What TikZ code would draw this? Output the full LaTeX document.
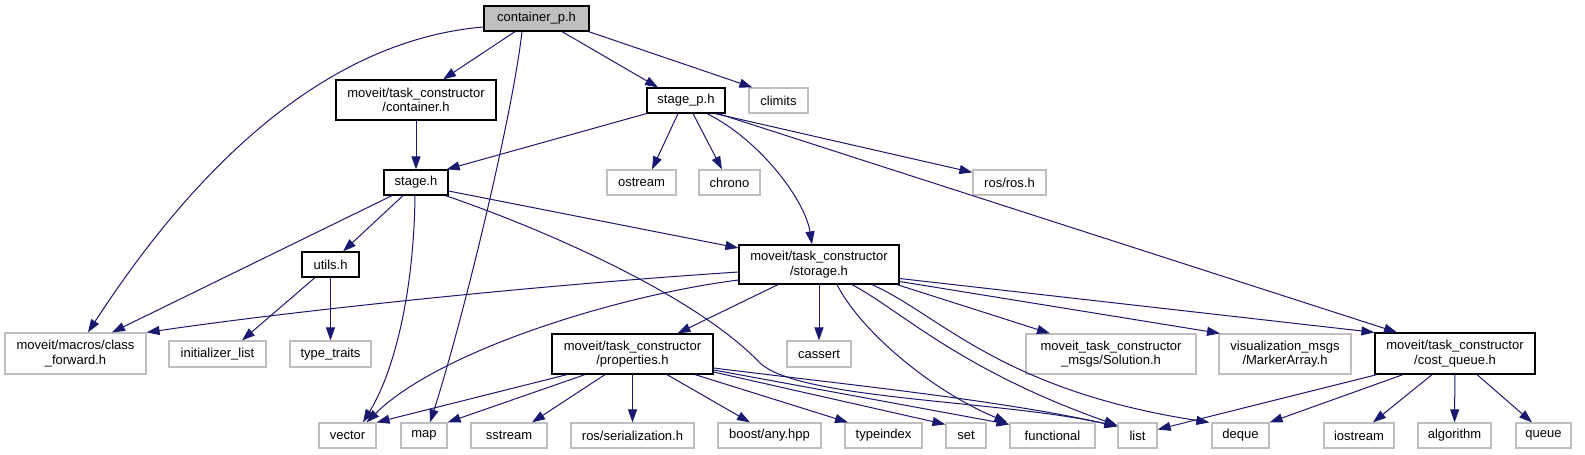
\documentclass[tikz,border=0pt]{standalone}
\usepackage{fontspec}
\setmainfont{Liberation Sans}
\usetikzlibrary{arrows.meta}
\definecolor{edgeblue}{HTML}{191970}
\definecolor{greyb}{HTML}{BFBFBF}
\begin{document}
\begin{tikzpicture}[x=1pt,y=-1pt,
  base/.style={draw, inner sep=0pt, align=center, font=\fontsize{13}{14.5}\selectfont, line width=1.2pt},
  doc/.style={base, draw=black, fill=white},
  root/.style={base, draw=black, fill=greyb},
  ext/.style={base, draw=greyb, fill=white},
  sz/.style 2 args={minimum width=#1pt, minimum height=#2pt},
  dep/.style={draw=edgeblue, line width=1pt, -{Triangle[length=13pt,width=9pt]}}
]
\fill[white] (0,0) rectangle (1585,455);
% nodes
\node[root, sz={105}{25}] (cp) at (536.5,18.5) {container\_p.h};
\node[doc, sz={160}{40}] (cont) at (416,100) {moveit/task\_constructor\\/container.h};
\node[doc, sz={78}{25}] (stp) at (686,100.5) {stage\_p.h};
\node[ext, sz={59}{25}] (clim) at (778.5,100.5) {climits};
\node[doc, sz={64}{25}] (stage) at (416,182.5) {stage.h};
\node[ext, sz={69}{25}] (ostr) at (641.5,182.5) {ostream};
\node[ext, sz={61}{25}] (chrono) at (729.5,182.5) {chrono};
\node[ext, sz={73}{25}] (ros) at (1009.5,182.5) {ros/ros.h};
\node[doc, sz={57}{25}] (utils) at (330.5,264.5) {utils.h};
\node[doc, sz={160}{39}] (stor) at (819,264.5) {moveit/task\_constructor\\/storage.h};
\node[ext, sz={141}{41}] (cf) at (75.5,353.5) {moveit/macros/class\\\_forward.h};
\node[ext, sz={97}{26}] (init) at (217.5,354) {initializer\_list};
\node[ext, sz={81}{26}] (tt) at (330.5,354) {type\_traits};
\node[doc, sz={161}{40}] (prop) at (632.5,354) {moveit/task\_constructor\\/properties.h};
\node[ext, sz={64}{26}] (cassert) at (819,354) {cassert};
\node[ext, sz={170}{40}] (sol) at (1111,354) {moveit\_task\_constructor\\\_msgs/Solution.h};
\node[ext, sz={132}{40}] (marker) at (1285,354) {visualization\_msgs\\/MarkerArray.h};
\node[doc, sz={160}{41}] (cq) at (1455,353.5) {moveit/task\_constructor\\/cost\_queue.h};
\node[ext, sz={57}{25}] (vector) at (347.5,435.5) {vector};
\node[ext, sz={46}{25}] (map) at (424,435.5) {map};
\node[ext, sz={76}{25}] (sstream) at (509,435.5) {sstream};
\node[ext, sz={123}{25}] (rser) at (632.5,435.5) {ros/serialization.h};
\node[ext, sz={103}{25}] (boost) at (769.5,435.5) {boost/any.hpp};
\node[ext, sz={77}{25}] (typeindex) at (883.5,435.5) {typeindex};
\node[ext, sz={40}{25}] (set) at (966,435.5) {set};
\node[ext, sz={85}{25}] (func) at (1052.5,435.5) {functional};
\node[ext, sz={39}{25}] (list) at (1137.5,435.5) {list};
\node[ext, sz={57}{25}] (deque) at (1240.5,435.5) {deque};
\node[ext, sz={70}{25}] (iostr) at (1359,435.5) {iostream};
\node[ext, sz={73}{25}] (algo) at (1454.5,435.5) {algorithm};
\node[ext, sz={55}{25}] (queue) at (1543.5,435.5) {queue};
% container_p.h
\draw[dep] ([yshift=-8.5pt]cp.west) .. controls (330,40) and (200,160) .. ([xshift=12.5pt]cf.north);
\draw[dep] ([xshift=-21.5pt]cp.south) -- ([xshift=27pt]cont.north);
\draw[dep] ([xshift=-14.5pt]cp.south) .. controls (512,120) and (460,330) .. ([xshift=6pt]map.north);
\draw[dep] ([xshift=25.5pt]cp.south) -- ([xshift=-28pt]stp.north);
\draw[dep] ([xshift=-1pt]cp.south east) -- ([xshift=4pt]clim.north west);
% container.h
\draw[dep] (cont.south) -- (stage.north);
% stage_p.h
\draw[dep] (stp.south west) -- ([xshift=-2pt]stage.north east);
\draw[dep] ([xshift=-8pt]stp.south) -- ([xshift=10.5pt]ostr.north);
\draw[dep] ([xshift=7pt]stp.south) -- ([xshift=-7.5pt]chrono.north);
\draw[dep] ([xshift=21pt]stp.south) .. controls (760,140) and (805,200) .. ([xshift=-7pt]stor.north);
\draw[dep] ([xshift=29pt]stp.south) -- ([yshift=-3pt]ros.north west);
\draw[dep] ([xshift=32pt]stp.south) -- ([xshift=-58pt]cq.north);
% stage.h
\draw[dep] ([xshift=-24pt]stage.south) -- ([xshift=36.5pt]cf.north);
\draw[dep] ([xshift=-13pt]stage.south) -- ([xshift=12.5pt]utils.north);
\draw[dep] ([xshift=-1pt]stage.south) .. controls (414,290) and (395,370) .. ([xshift=15.5pt]vector.north);
\draw[dep] ([yshift=-8.5pt]stage.east) -- ([yshift=16.5pt]stor.west);
\draw[dep] ([xshift=-3pt]stage.south east) .. controls (560,235) and (700,300) .. (760,363) .. controls (800,400) and (1000,400) .. ([yshift=-4pt]list.north west);
% utils.h
\draw[dep] ([xshift=-15.5pt]utils.south) -- ([xshift=24.5pt]init.north);
\draw[dep] (utils) -- (tt);
% storage.h
\draw[dep] ([yshift=-7.5pt]stor.west) .. controls (540,285) and (300,310) .. (cf.north east);
\draw[dep] ([yshift=-15.5pt]stor.west) .. controls (620,295) and (440,350) .. ([xshift=19pt]vector.north);
\draw[dep] ([xshift=-41pt]stor.south) -- ([xshift=45pt]prop.north);
\draw[dep] (stor) -- (cassert);
\draw[dep] ([xshift=18pt]stor.south) .. controls (860,330) and (930,390) .. ([xshift=-2pt]func.north west);
\draw[dep] ([xshift=33pt]stor.south) .. controls (900,310) and (960,370) .. ([yshift=-3pt]list.north west);
\draw[dep] ([xshift=53pt]stor.south) .. controls (940,315) and (1000,390) .. ([xshift=-2pt]deque.north west);
\draw[dep] ([xshift=78pt]stor.south) -- ([xshift=-61pt]sol.north);
\draw[dep] ([yshift=-17pt]stor.east) -- ([xshift=-65pt]marker.north);
\draw[dep] ([yshift=-14pt]stor.east) -- (cq.north west);
% properties.h
\draw[dep] ([xshift=-65.5pt]prop.south) -- (vector.north east);
\draw[dep] ([xshift=-47.5pt]prop.south) -- (map.north east);
\draw[dep] ([xshift=-27.5pt]prop.south) -- ([xshift=23pt]sstream.north);
\draw[dep] (prop) -- (rser);
\draw[dep] ([xshift=34.5pt]prop.south) -- ([xshift=-19.5pt]boost.north);
\draw[dep] ([xshift=62.5pt]prop.south) -- ([xshift=-35.5pt]typeindex.north);
\draw[dep] ([yshift=-18pt]prop.east) -- ([yshift=-2pt]set.north west);
\draw[dep] ([yshift=-16pt]prop.east) -- ([yshift=-2pt]func.north west);
\draw[dep] ([yshift=-14pt]prop.east) .. controls (850,385) and (1000,400) .. ([yshift=-4pt]list.north west);
% cost_queue.h
\draw[dep] ([xshift=-78pt]cq.south) -- ([yshift=6pt]list.east);
\draw[dep] ([xshift=-52pt]cq.south) -- (deque.north east);
\draw[dep] ([xshift=-23pt]cq.south) -- ([xshift=14pt]iostr.north);
\draw[dep] (cq) -- (algo);
\draw[dep] ([xshift=22pt]cq.south) -- ([xshift=-11.5pt]queue.north);
\end{tikzpicture}
\end{document}
